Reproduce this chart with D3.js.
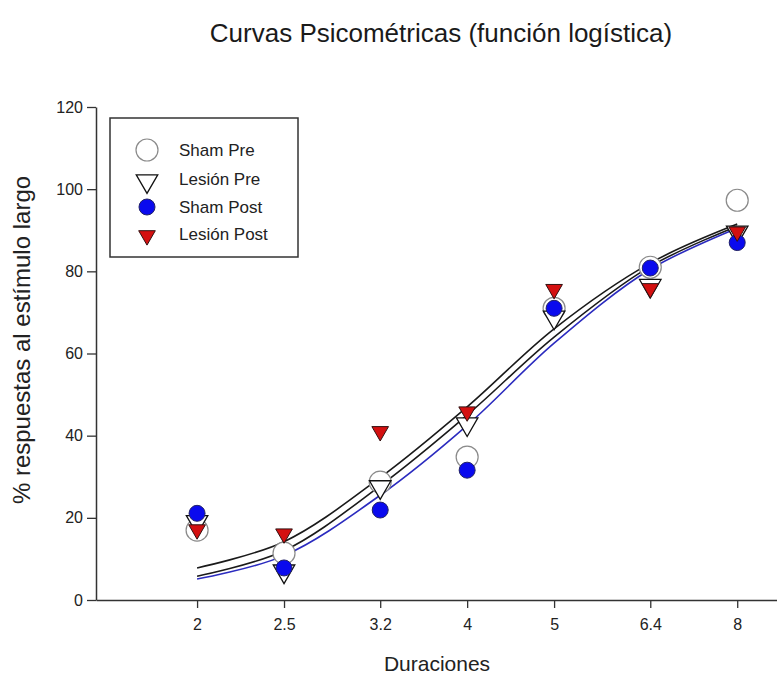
<!DOCTYPE html>
<html>
<head>
<meta charset="utf-8">
<script src="https://cdn.jsdelivr.net/npm/d3@7"></script>
<style>
  body { margin: 0; background: #fff; }
  svg { font-family: "Liberation Sans", Arial, sans-serif; }
</style>
</head>
<body>
<svg id="canvas" width="777" height="679"></svg>
<script>
// durations (x) and % long responses
let durations = [2, 2.5, 3.2, 4, 5, 6.4, 8];
let shamPre = [17, 11.4, 28.7, 34.8, 71, 81, 97.3];
let lesionPre = [19.5, 7.5, 28, 43.3, 69.3, 77, 90];
let shamPost = [21.1, 7.8, 21.9, 31.6, 71, 80.8, 87];
let lesionPost = [17.5, 16.5, 41.4, 46.2, 76, 76.2, 90];

// fitted logistic curves, read at the same durations
let fitUpper = [7.8, 14.2, 29.8, 47, 66, 82, 91.5];
let fitMiddle = [5.8, 12, 27.8, 45, 64, 81.2, 91];
let fitBlue = [5.1, 10.8, 25.5, 42.5, 62.5, 80.5, 90.5];

let yTicks = [0, 20, 40, 60, 80, 100, 120];
let legendNames = ["Sham Pre", "Lesión Pre", "Sham Post", "Lesión Post"];

let canvas = d3.select("#canvas");

let x = d3.scaleLog().domain([1.543, 8.86]).range([96, 777]);
let y = d3.scaleLinear().domain([0, 120]).range([600, 107]);

// axes
let xAxis = canvas.append("g")
  .attr("transform", "translate(0,600)")
  .call(d3.axisBottom(x).tickValues(durations).tickFormat(d => String(d)).tickSize(8).tickSizeOuter(0));
let yAxis = canvas.append("g")
  .attr("transform", "translate(96,0)")
  .call(d3.axisLeft(y).tickValues(yTicks).tickSize(9).tickSizeOuter(0));

[xAxis, yAxis].forEach(ax => {
  ax.select(".domain").attr("stroke", "#333").attr("stroke-width", 1.5);
  ax.selectAll(".tick line").attr("stroke", "#333").attr("stroke-width", 1.3);
  ax.selectAll(".tick text").attr("fill", "#222").style("font-size", "16px")
    .style("font-family", "Liberation Sans, Arial, sans-serif");
});
xAxis.selectAll(".tick text").attr("dy", "1.2em");
yAxis.selectAll(".tick text").attr("x", -13);

// titles
canvas.append("text").attr("x", 441).attr("y", 42).attr("text-anchor", "middle")
  .style("font-size", "26px").attr("fill", "#1a1a1a")
  .text("Curvas Psicométricas (función logística)");
canvas.append("text").attr("x", 437).attr("y", 671).attr("text-anchor", "middle")
  .style("font-size", "21px").attr("fill", "#222").text("Duraciones");
canvas.append("text").attr("transform", "translate(30,340) rotate(-90)").attr("text-anchor", "middle")
  .style("font-size", "24px").attr("fill", "#222").text("% respuestas al estímulo largo");

// curves
let line = d3.line()
  .x((d, i) => x(durations[i]))
  .y(d => y(d))
  .curve(d3.curveCatmullRom.alpha(0.5));

[[fitUpper, "#1a1a1a"], [fitMiddle, "#1a1a1a"], [fitBlue, "#2b2bbf"]].forEach(c => {
  canvas.append("path").attr("d", line(c[0]))
    .attr("fill", "none").attr("stroke", c[1]).attr("stroke-width", 1.6);
});

let triDown = (size) => d3.symbol(d3.symbolTriangle, size)();

let drawOpenCircle = (g, cx, cy) => g.append("circle").attr("cx", cx).attr("cy", cy).attr("r", 11)
  .attr("fill", "white").attr("stroke", "#8a8a8a").attr("stroke-width", 1.2);
let drawOpenTri = (g, cx, cy) => g.append("path").attr("d", triDown(200))
  .attr("transform", "translate(" + cx + "," + (cy + 2) + ") rotate(180)")
  .attr("fill", "white").attr("stroke", "#111").attr("stroke-width", 1.3);
let drawBlue = (g, cx, cy) => g.append("circle").attr("cx", cx).attr("cy", cy).attr("r", 8)
  .attr("fill", "#0a0aee").attr("stroke", "#222266").attr("stroke-width", 1);
let drawRed = (g, cx, cy) => g.append("path").attr("d", triDown(120))
  .attr("transform", "translate(" + cx + "," + (cy + 1.5) + ") rotate(180)")
  .attr("fill", "#d41010").attr("stroke", "#331111").attr("stroke-width", 1);

let points = canvas.append("g");
shamPre.forEach((v, i) => drawOpenCircle(points, x(durations[i]), y(v)));
lesionPre.forEach((v, i) => drawOpenTri(points, x(durations[i]), y(v)));
shamPost.forEach((v, i) => drawBlue(points, x(durations[i]), y(v)));
lesionPost.forEach((v, i) => drawRed(points, x(durations[i]), y(v)));

// legend
let legend = canvas.append("g");
legend.append("rect").attr("x", 110).attr("y", 118).attr("width", 188).attr("height", 139)
  .attr("fill", "white").attr("stroke", "#333").attr("stroke-width", 1.5);
let rowsY = [150, 179, 207, 234];
let drawers = [drawOpenCircle, drawOpenTri, drawBlue, drawRed];
legendNames.forEach((name, i) => {
  drawers[i](legend, 147, rowsY[i]);
  legend.append("text").attr("x", 179).attr("y", rowsY[i] + 6)
    .style("font-size", "17px").attr("fill", "#222").text(name);
});
</script>
</body>
</html>
